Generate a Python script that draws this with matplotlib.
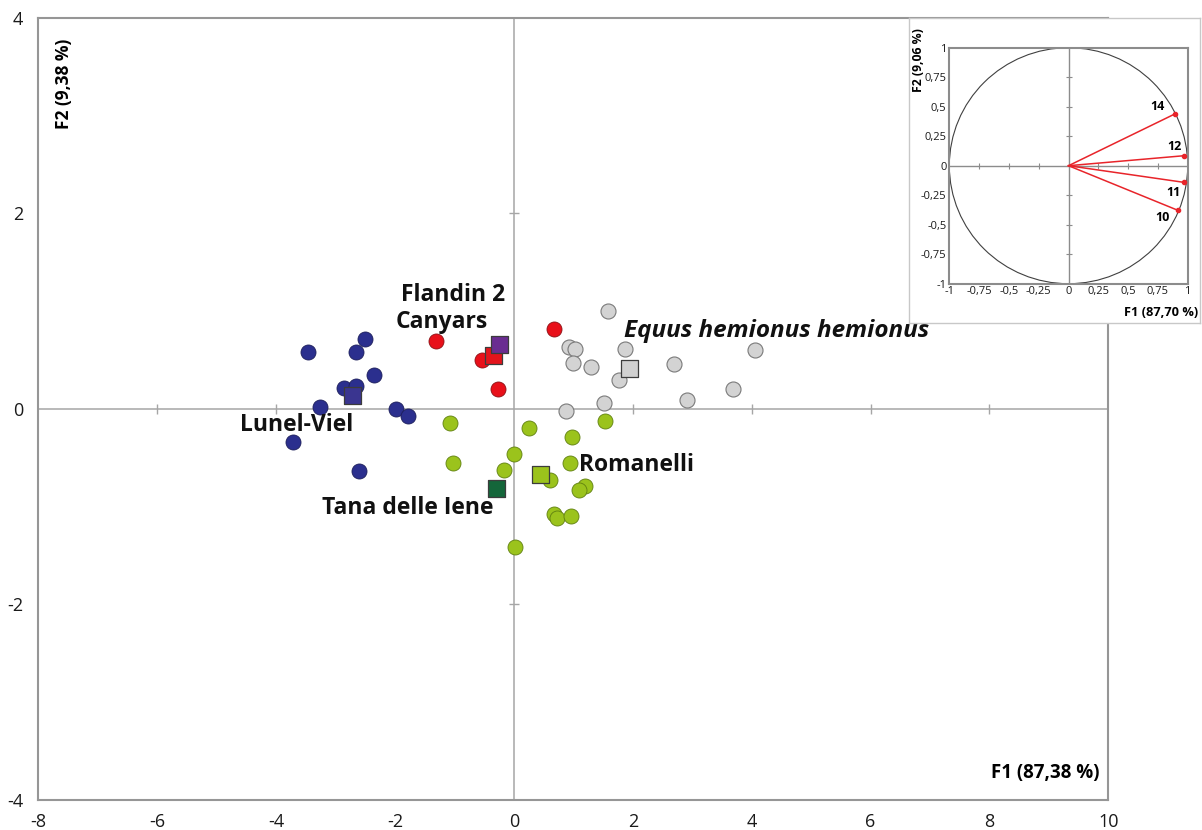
import numpy as np
import matplotlib
matplotlib.use("Agg")
import matplotlib.pyplot as plt
from matplotlib.patches import Circle

plt.rcParams['font.family'] = ['Open Sans', 'DejaVu Sans']
plt.rcParams['axes.unicode_minus'] = False

# --- main PCA scores (F1, F2) ---
lunel_x = [-2.51, -3.47, -2.65, -2.35, -2.85, -2.66, -3.27, -1.98, -1.79, -3.72, -2.61]
lunel_y = [0.71, 0.585, 0.58, 0.35, 0.21, 0.23, 0.02, -0.005, -0.07, -0.34, -0.64]
canyars_x = [-1.31, -0.53, -0.27, 0.68]
canyars_y = [0.69, 0.50, 0.20, 0.82]
hemionus_x = [1.585, 0.93, 1.02, 1.87, 4.06, 1.00, 1.30, 2.70, 1.76, 3.69, 2.91, 1.52, 0.88]
hemionus_y = [1.00, 0.63, 0.61, 0.61, 0.60, 0.47, 0.43, 0.455, 0.30, 0.20, 0.09, 0.06, -0.02]
romanelli_x = [-1.07, 0.25, 0.97, 1.54, 0.00, -1.02, -0.16, 0.94, 0.61, 1.20, 1.09, 0.68, 0.73, 0.96, 0.02]
romanelli_y = [-0.14, -0.20, -0.29, -0.12, -0.46, -0.55, -0.62, -0.55, -0.73, -0.79, -0.83, -1.07, -1.12, -1.10, -1.41]

# group means (squares)
mean_names = ["Lunel-Viel", "Canyars", "Flandin 2", "Equus hemionus hemionus", "Romanelli", "Tana delle Iene"]
mean_x = [-2.71, -0.35, -0.25, 1.95, 0.45, -0.30]
mean_y = [0.14, 0.55, 0.66, 0.41, -0.67, -0.81]
mean_colors = ["#3a3590", "#e3141c", "#6a2c91", "#d0d0d0", "#9bc31c", "#14663a"]

# text labels: (text, x, y, italic)
labels = [
    ("Flandin 2", -1.90, 1.16, False),
    ("Canyars", -1.99, 0.89, False),
    ("Equus hemionus hemionus", 1.85, 0.80, True),
    ("Lunel-Viel", -4.60, -0.16, False),
    ("Romanelli", 1.09, -0.57, False),
    ("Tana delle Iene", -3.22, -1.01, False),
]

x_ticks = [-8, -6, -4, -2, 0, 2, 4, 6, 8, 10]
y_ticks = [-4, -2, 0, 2, 4]

# --- correlation circle (inset) ---
var_names = ["14", "12", "11", "10"]
var_x = [0.895, 0.973, 0.968, 0.92]
var_y = [0.44, 0.085, -0.141, -0.379]
var_label_x = [0.75, 0.89, 0.88, 0.79]
var_label_y = [0.50, 0.16, -0.226, -0.44]
c_ticks = [-1, -0.75, -0.5, -0.25, 0, 0.25, 0.5, 0.75, 1]


def comma(v):
    s = ("%g" % v).replace(".", ",")
    return s


fig = plt.figure(figsize=(12.02, 8.30), dpi=100)
ax = fig.add_axes([0.0319, 0.0361, 0.8902, 0.9425])
ax.set_xlim(-8, 10)
ax.set_ylim(-4, 4)
for sp in ax.spines.values():
    sp.set_color("#969696")
    sp.set_linewidth(1.5)
ax.set_xticks(x_ticks)
ax.set_yticks(y_ticks)
ax.set_xticklabels([str(t) for t in x_ticks])
ax.set_yticklabels([str(t) for t in y_ticks])
ax.tick_params(length=0, labelsize=13, colors="#1a1a1a")
ax.tick_params(axis="x", pad=9)
ax.tick_params(axis="y", pad=11)

ax.axhline(0, color="#a6a6a6", lw=1.1, zorder=1)
ax.axvline(0, color="#a6a6a6", lw=1.1, zorder=1)
hx = [t for t in x_ticks if t not in (0, -8, 10)]
vy = [t for t in y_ticks if t not in (0, -4, 4)]
ax.plot(hx, [0] * len(hx), ls="none", marker="|", ms=7, mew=1, color="#a6a6a6", zorder=1)
ax.plot([0] * len(vy), vy, ls="none", marker="_", ms=7, mew=1, color="#a6a6a6", zorder=1)

ax.scatter(lunel_x, lunel_y, s=117, c="#2b2f8e", edgecolors="#1c1e5a", linewidths=0.6, zorder=3)
ax.scatter(canyars_x, canyars_y, s=117, c="#e8101a", edgecolors="#8a1014", linewidths=0.6, zorder=3)
ax.scatter(hemionus_x, hemionus_y, s=117, c="#d3d3d3", edgecolors="#7a7a7a", linewidths=0.8, zorder=3)
ax.scatter(romanelli_x, romanelli_y, s=117, c="#9bc31c", edgecolors="#5f7f10", linewidths=0.6, zorder=3)
ax.scatter(mean_x, mean_y, s=150, marker="s", c=mean_colors, edgecolors="#3c3c3c", linewidths=0.9, zorder=4)

for txt, tx, ty, it in labels:
    ax.text(tx, ty, txt, fontsize=17.5 if it else 16.5, fontweight="bold", ha="left", va="center",
            style="italic" if it else "normal", color="#111111", zorder=5)

ax.text(9.85, -3.72, "F1 (87,38 %)", fontsize=13.5, fontweight="bold", ha="right", va="center")
ax.text(-7.57, 3.32, "F2 (9,38 %)", fontsize=12.5, fontweight="bold", ha="center", va="center", rotation=90)

# inset box
box = fig.add_axes([0.7565, 0.6105, 0.2418, 0.3682])
box.set_xticks([])
box.set_yticks([])
for sp in box.spines.values():
    sp.set_color("#c8c8c8")
    sp.set_linewidth(1.0)
box.text(0.995, 0.035, "F1 (87,70 %)", transform=box.transAxes, fontsize=9.2,
         fontweight="bold", ha="right", va="center")
box.text(0.03, 0.86, "F2 (9,06 %)", transform=box.transAxes, fontsize=8.8,
         fontweight="bold", ha="center", va="center", rotation=90)

cax = fig.add_axes([0.7898, 0.6582, 0.1983, 0.2843])
cax.set_xlim(-1, 1)
cax.set_ylim(-1, 1)
for sp in cax.spines.values():
    sp.set_color("#8c8c8c")
    sp.set_linewidth(1.5)
cax.set_xticks(c_ticks)
cax.set_yticks(c_ticks)
cax.set_xticklabels([comma(t) for t in c_ticks])
cax.set_yticklabels([comma(t) for t in c_ticks])
cax.tick_params(length=0, labelsize=8, colors="#1a1a1a", pad=2)
cax.axhline(0, color="#8c8c8c", lw=1, zorder=1)
cax.axvline(0, color="#8c8c8c", lw=1, zorder=1)
inner = [t for t in c_ticks if t not in (-1, 0, 1)]
cax.plot(inner, [0] * len(inner), ls="none", marker="|", ms=4, mew=0.8, color="#8c8c8c", zorder=1)
cax.plot([0] * len(inner), inner, ls="none", marker="_", ms=4, mew=0.8, color="#8c8c8c", zorder=1)
cax.add_patch(Circle((0, 0), 1, fill=False, ec="#404040", lw=0.8, zorder=2))
for name, vx, vy_, lx, ly in zip(var_names, var_x, var_y, var_label_x, var_label_y):
    cax.plot([0, vx], [0, vy_], color="#e8242a", lw=1.1, zorder=3)
    cax.plot(vx, vy_, "o", ms=3, color="#e8242a", zorder=4)
    cax.text(lx, ly, name, fontsize=9, fontweight="bold", ha="center", va="center", zorder=5)

fig.savefig("out.png", dpi=100)
